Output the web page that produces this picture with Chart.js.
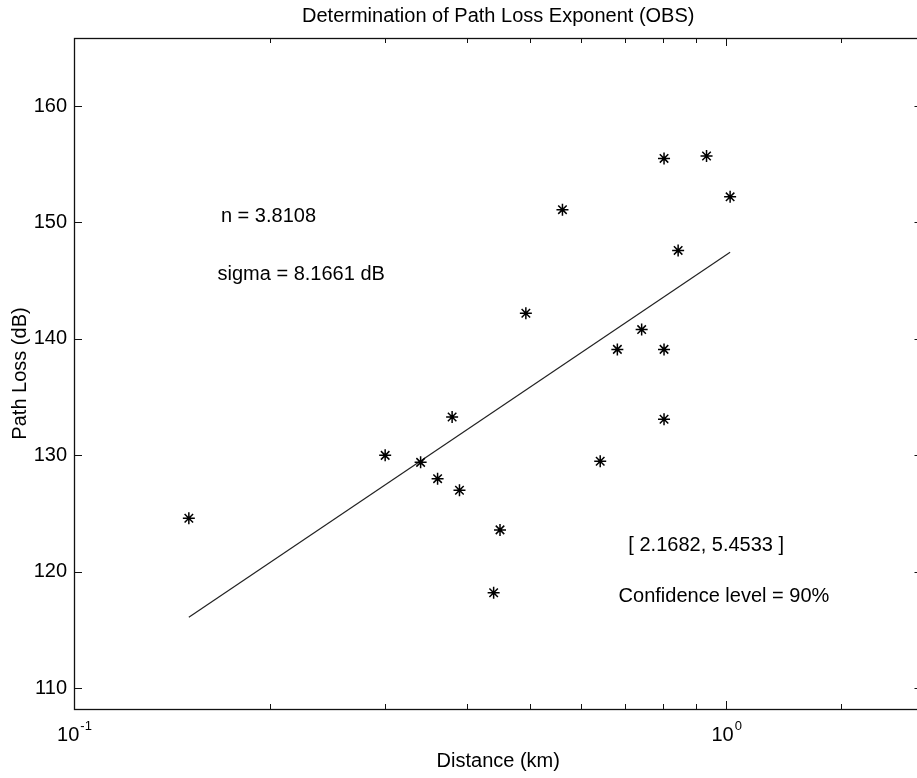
<!DOCTYPE html>
<html>
<head>
<meta charset="utf-8">
<title>Determination of Path Loss Exponent (OBS)</title>
<script src="https://cdn.jsdelivr.net/npm/chart.js@4.4.1/dist/chart.umd.min.js"></script>
<style>
  html, body { margin: 0; padding: 0; background: #fff; overflow: hidden; width: 917px; height: 778px; }
  #outer { width: 917px; height: 778px; overflow: hidden; position: relative; }
  #inner { width: 930px; height: 778px; position: absolute; left: 0; top: 0; }
</style>
</head>
<body>
<div id="outer"><div id="inner"><canvas id="myChart" width="930" height="778"></canvas></div></div>
<script>
// measured points (km, dB)
const distance = [0.150, 0.300, 0.340, 0.361, 0.380, 0.390, 0.440, 0.450, 0.493, 0.561,
                  0.641, 0.681, 0.742, 0.803, 0.803, 0.803, 0.844, 0.933, 1.014]
const pathLoss = [124.6, 130.0, 129.4, 128.0, 133.3, 127.0, 118.2, 123.6, 142.2, 151.1,
                  129.5, 139.1, 140.8, 155.5, 139.1, 133.1, 147.6, 155.7, 152.2]

// fitted line end points
const fitDistance = [0.150, 1.014]
const fitLoss = [116.1, 147.45]

const xTickLabels = { 0.1: ['10', '-1'], 1: ['10', '0'] }
const notes = ['n = 3.8108', 'sigma = 8.1661 dB', '[ 2.1682, 5.4533 ]', 'Confidence level = 90%']

const FONT = 'Helvetica, "Liberation Sans", Arial, sans-serif'

const frame = {
    id: 'frame',
    afterDraw(chart) {
        const ctx = chart.ctx
        const a = chart.chartArea
        const x = chart.scales.x
        const y = chart.scales.y
        ctx.save()
        ctx.strokeStyle = '#111'
        ctx.lineWidth = 1.3
        ctx.strokeRect(a.left + 0.5, a.top + 0.5, a.right - a.left, a.bottom - a.top)

        // x ticks, inward, top and bottom
        ctx.lineWidth = 1
        x.ticks.forEach(t => {
            const px = Math.round(x.getPixelForValue(t.value)) + 0.5
            const len = t.major ? 8 : 5
            ctx.beginPath()
            ctx.moveTo(px, a.bottom)
            ctx.lineTo(px, a.bottom - len)
            ctx.moveTo(px, a.top)
            ctx.lineTo(px, a.top + len)
            ctx.stroke()
        })
        // y ticks, inward, left and right
        y.ticks.forEach(t => {
            const py = Math.round(y.getPixelForValue(t.value)) + 0.5
            ctx.beginPath()
            ctx.moveTo(a.left, py)
            ctx.lineTo(a.left + 8, py)
            ctx.moveTo(a.right, py)
            ctx.lineTo(a.right - 8, py)
            ctx.stroke()
        })

        // x tick labels with exponent
        ctx.fillStyle = '#000'
        ctx.textBaseline = 'alphabetic'
        ctx.textAlign = 'left'
        x.ticks.forEach(t => {
            const lab = xTickLabels[Math.round(t.value * 1000) / 1000]
            if (!lab) return
            const px = x.getPixelForValue(t.value)
            ctx.font = '20px ' + FONT
            const w1 = ctx.measureText(lab[0]).width
            ctx.font = '13px ' + FONT
            const w2 = ctx.measureText(lab[1]).width
            const x0 = px - (w1 + w2) / 2
            ctx.font = '20px ' + FONT
            ctx.fillText(lab[0], x0, a.bottom + 32)
            ctx.font = '13px ' + FONT
            ctx.fillText(lab[1], x0 + w1 + 1, a.bottom + 21)
        })

        // title
        ctx.font = '20px ' + FONT
        ctx.textAlign = 'center'
        ctx.fillText('Determination of Path Loss Exponent (OBS)', (a.left + a.right) / 2, 22)

        // notes, placed in data coordinates
        ctx.textAlign = 'left'
        ctx.textBaseline = 'middle'
        ctx.fillText(notes[0], x.getPixelForValue(0.168), y.getPixelForValue(150.5))
        ctx.fillText(notes[1], x.getPixelForValue(0.166), y.getPixelForValue(145.5))
        ctx.fillText(notes[2], x.getPixelForValue(0.708), y.getPixelForValue(122.3))
        ctx.fillText(notes[3], x.getPixelForValue(0.684), y.getPixelForValue(117.9))
        ctx.restore()
    }
}

const data = {
    datasets: [{
            type: 'scatter',
            label: 'Measured',
            data: distance.map((d, i) => ({ x: d, y: pathLoss[i] })),
            pointStyle: 'star',
            pointRadius: 6,
            borderColor: '#000',
            borderWidth: 1.5,
            backgroundColor: '#000'
        },
        {
            type: 'line',
            label: 'Fit',
            data: fitDistance.map((d, i) => ({ x: d, y: fitLoss[i] })),
            borderColor: '#222',
            borderWidth: 1.2,
            pointRadius: 0,
            fill: false,
            tension: 0
        }
    ]
}

const config = {
    type: 'scatter',
    data: data,
    plugins: [frame],
    options: {
        responsive: false,
        animation: false,
        devicePixelRatio: 1,
        layout: { padding: { top: 38, left: 0, right: 0, bottom: 0 } },
        plugins: {
            legend: { display: false },
            tooltip: { enabled: false },
            title: { display: false }
        },
        scales: {
            x: {
                type: 'logarithmic',
                min: 0.1,
                max: 2,
                grid: { display: false },
                border: { display: false },
                ticks: { display: false },
                title: {
                    display: true,
                    text: 'Distance (km)',
                    color: '#000',
                    font: { family: FONT, size: 20 },
                    padding: { top: 0, bottom: 5 }
                },
                afterFit: s => { s.height = 69 }
            },
            y: {
                min: 108.22,
                max: 165.84,
                grid: { display: false, drawTicks: false },
                border: { display: false },
                ticks: {
                    stepSize: 10,
                    includeBounds: false,
                    color: '#000',
                    padding: 7,
                    font: { family: FONT, size: 20 }
                },
                title: {
                    display: true,
                    text: 'Path Loss (dB)',
                    color: '#000',
                    font: { family: FONT, size: 20 },
                    padding: { top: 8, bottom: 0 }
                },
                afterFit: s => { s.width = 74 }
            }
        }
    }
}

var myChart = new Chart(document.getElementById('myChart'), config)
</script>
</body>
</html>
